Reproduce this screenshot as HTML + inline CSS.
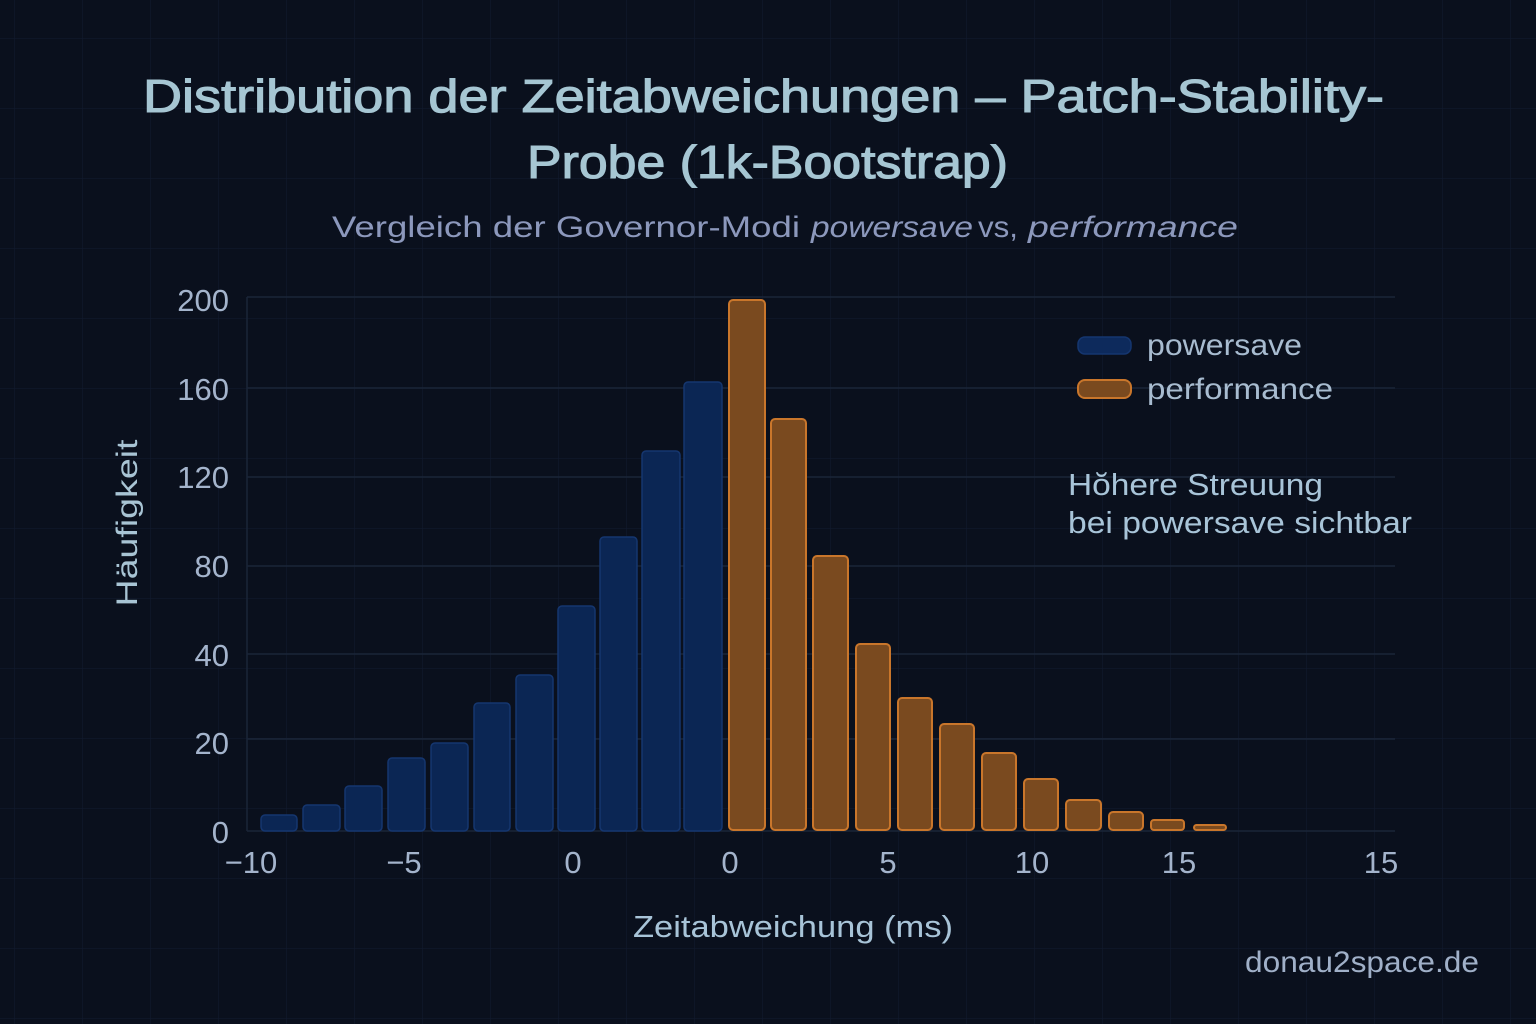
<!DOCTYPE html>
<html>
<head>
<meta charset="utf-8">
<style>
  html,body{margin:0;padding:0;background:#0a101d;}
  svg{display:block;}
  text{font-family:"Liberation Sans", "DejaVu Sans", sans-serif;}
</style>
</head>
<body>
<svg width="1536" height="1024" viewBox="0 0 1536 1024" xmlns="http://www.w3.org/2000/svg">
  <defs>
    <pattern id="bg" x="14" y="38" width="68" height="70" patternUnits="userSpaceOnUse">
      <path d="M0 0 V70 M0 0 H68" stroke="#16213a" stroke-width="1.2" fill="none" opacity="0.55"/>
    </pattern>
  </defs>
  <rect width="1536" height="1024" fill="#0a101d"/>
  <rect width="1536" height="1024" fill="url(#bg)"/>

  <!-- Title -->
  <g font-size="46" fill="#a6c6d3" stroke="#a6c6d3" stroke-width="1.1">
    <text x="143" y="112" textLength="1241" lengthAdjust="spacingAndGlyphs">Distribution der Zeitabweichungen – Patch-Stability-</text>
    <text x="527" y="178" textLength="481" lengthAdjust="spacingAndGlyphs">Probe (1k-Bootstrap)</text>
  </g>

  <!-- Subtitle -->
  <g font-size="30" fill="#8c98bc">
    <text x="332" y="237" textLength="468" lengthAdjust="spacingAndGlyphs">Vergleich der Governor-Modi</text>
    <text x="811" y="237" font-style="italic" textLength="162" lengthAdjust="spacingAndGlyphs">powersave</text>
    <text x="978" y="237" textLength="40" lengthAdjust="spacingAndGlyphs">vs,</text>
    <text x="1028" y="237" font-style="italic" textLength="210" lengthAdjust="spacingAndGlyphs">performance</text>
  </g>

  <!-- Plot gridlines -->
  <g stroke="#1a2538" stroke-width="1.5">
    <line x1="247" y1="297" x2="1395" y2="297"/>
    <line x1="247" y1="388" x2="1395" y2="388"/>
    <line x1="247" y1="477" x2="1395" y2="477"/>
    <line x1="247" y1="566" x2="1395" y2="566"/>
    <line x1="247" y1="654" x2="1395" y2="654"/>
    <line x1="247" y1="739" x2="1395" y2="739"/>
    <line x1="247" y1="831" x2="1395" y2="831"/>
    <line x1="247" y1="297" x2="247" y2="831"/>
  </g>

  <!-- Y ticks -->
  <g font-size="31" fill="#a4b4cc" text-anchor="end">
    <text x="229" y="311">200</text>
    <text x="229" y="400">160</text>
    <text x="229" y="488">120</text>
    <text x="229" y="577">80</text>
    <text x="229" y="666">40</text>
    <text x="229" y="754">20</text>
    <text x="229" y="843">0</text>
  </g>

  <!-- Y axis title -->
  <text transform="translate(137,523) rotate(-90)" font-size="30" fill="#a8c4d4" text-anchor="middle" textLength="167" lengthAdjust="spacingAndGlyphs">Häufigkeit</text>

  <!-- X ticks -->
  <g font-size="31" fill="#a4b4cc" text-anchor="middle">
    <text x="251" y="873">−10</text>
    <text x="404" y="873">−5</text>
    <text x="573" y="873">0</text>
    <text x="730" y="873">0</text>
    <text x="888" y="873">5</text>
    <text x="1032" y="873">10</text>
    <text x="1179" y="873">15</text>
    <text x="1381" y="873">15</text>
  </g>

  <!-- Blue bars -->
  <g fill="#0b2654" stroke="#15366f" stroke-width="1.5">
    <rect x="261" y="815" width="36" height="16" rx="4"/>
    <rect x="303" y="805" width="37" height="26" rx="4"/>
    <rect x="345" y="786" width="37" height="45" rx="4"/>
    <rect x="388" y="758" width="37" height="73" rx="4"/>
    <rect x="431" y="743" width="37" height="88" rx="4"/>
    <rect x="474" y="703" width="36" height="128" rx="4"/>
    <rect x="516" y="675" width="37" height="156" rx="4"/>
    <rect x="558" y="606" width="37" height="225" rx="4"/>
    <rect x="600" y="537" width="37" height="294" rx="4"/>
    <rect x="642" y="451" width="38" height="380" rx="4"/>
    <rect x="684" y="382" width="38" height="449" rx="4"/>
  </g>

  <!-- Orange bars -->
  <g fill="#7a4a1f" stroke="#c9762b" stroke-width="2">
    <rect x="729" y="300" width="36" height="530" rx="4"/>
    <rect x="771" y="419" width="35" height="411" rx="4"/>
    <rect x="813" y="556" width="35" height="274" rx="4"/>
    <rect x="856" y="644" width="34" height="186" rx="4"/>
    <rect x="898" y="698" width="34" height="132" rx="4"/>
    <rect x="940" y="724" width="34" height="106" rx="4"/>
    <rect x="982" y="753" width="34" height="77" rx="4"/>
    <rect x="1024" y="779" width="34" height="51" rx="4"/>
    <rect x="1066" y="800" width="35" height="30" rx="4"/>
    <rect x="1109" y="812" width="34" height="18" rx="4"/>
    <rect x="1151" y="820" width="33" height="10" rx="3"/>
    <rect x="1194" y="825" width="32" height="5" rx="2.5"/>
  </g>

  <!-- Legend -->
  <rect x="1078" y="337" width="53" height="17" rx="7" fill="#0d2a5c" stroke="#15366f" stroke-width="1.5"/>
  <rect x="1078" y="380" width="53" height="18" rx="7" fill="#7a4a1f" stroke="#c9762b" stroke-width="2"/>
  <g font-size="30" fill="#a8bcd0">
    <text x="1147" y="355" textLength="155" lengthAdjust="spacingAndGlyphs">powersave</text>
    <text x="1147" y="399" textLength="186" lengthAdjust="spacingAndGlyphs">performance</text>
  </g>

  <!-- Annotation -->
  <g font-size="31" fill="#a8c4d8">
    <text x="1068" y="495" textLength="255" lengthAdjust="spacingAndGlyphs">Hŏhere Streuung</text>
    <text x="1068" y="533" textLength="344" lengthAdjust="spacingAndGlyphs">bei powersave sichtbar</text>
  </g>

  <!-- X axis title -->
  <text x="633" y="937" font-size="31" fill="#a8c4d8" textLength="320" lengthAdjust="spacingAndGlyphs">Zeitabweichung (ms)</text>

  <!-- Watermark -->
  <text x="1245" y="972" font-size="30" fill="#a0b0c8" textLength="234" lengthAdjust="spacingAndGlyphs">donau2space.de</text>
</svg>
</body>
</html>
